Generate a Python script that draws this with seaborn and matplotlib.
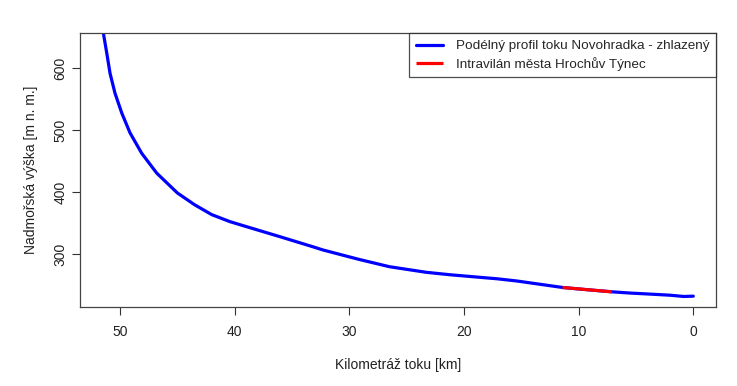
import matplotlib
matplotlib.use("Agg")
import matplotlib.pyplot as plt
import seaborn as sns
import pandas as pd

# Data
km = [51.5, 51.16, 50.87, 50.44, 49.85, 49.13, 48.11, 46.8, 45.0, 43.5, 42.0,
      40.4, 38.95, 36.05, 33.15, 32.3, 29.2, 26.5, 23.3, 21.2, 17.1, 15.4,
      11.4, 9.3, 7.1, 5.5, 3.75, 2.0, 0.84, 0.0]
elev = [662, 625, 592, 560, 528, 496, 463, 431, 399, 380, 364,
        352.6, 344.5, 328.4, 312, 307, 292, 280, 271, 267, 260.5, 257,
        246.5, 243, 239.5, 237.5, 235.8, 234, 232, 232.5]
red_km = [11.4, 9.3, 7.1]
red_elev = [246.5, 243, 239.5]

x_ticks = [50, 40, 30, 20, 10, 0]
y_ticks = [300, 400, 500, 600]
label_profile = "Podélný profil toku Novohradka - zhlazený"
label_town = "Intravilán města Hrochův Týnec"
x_label = "Kilometráž toku [km]"
y_label = "Nadmořská výška [m n. m.]"

sns.set_style("white")
plt.rcParams['font.family'] = ['Liberation Sans', 'DejaVu Sans']

W, H = 737, 386
fig = plt.figure(figsize=(W / 100, H / 100), dpi=100)
left, right, top, bottom = 80, 716, 33.3, 306.7
ax = fig.add_axes([left / W, 1 - bottom / H, (right - left) / W, (bottom - top) / H])

df = pd.DataFrame({"km": km, "elev": elev})
dr = pd.DataFrame({"km": red_km, "elev": red_elev})
sns.lineplot(data=df, x="km", y="elev", sort=False, color="#0000ff", lw=2.3,
             ax=ax, label=label_profile, solid_capstyle="round",
             solid_joinstyle="round")
sns.lineplot(data=dr, x="km", y="elev", sort=False, color="#ff0000", lw=2.3,
             ax=ax, label=label_town, solid_capstyle="butt")

ax.set_xlim(53.49, -1.98)
ax.set_ylim(215.5, 656.5)
ax.set_xticks(x_ticks)
ax.set_yticks(y_ticks)
ax.tick_params(axis="both", which="both", direction="out", length=5.5, width=0.8,
               color="#333333", labelsize=10, labelcolor="#222222",
               bottom=True, left=True)
ax.tick_params(axis="x", pad=8)
ax.tick_params(axis="y", pad=3.5)
for t in ax.get_yticklabels():
    t.set_rotation(90)
    t.set_va("center")
for s in ax.spines.values():
    s.set_visible(True)
    s.set_color("#444444")
    s.set_linewidth(0.9)

ax.set_xlabel(x_label, fontsize=10, color="#222222", labelpad=13)
ax.set_ylabel(y_label, fontsize=10, color="#222222", labelpad=11)

leg = ax.legend(loc="upper right", fontsize=9.7, frameon=True, fancybox=False,
                edgecolor="#222222", borderaxespad=0, handlelength=2.0,
                handletextpad=0.95, labelspacing=0.32, borderpad=0.5)
leg.get_frame().set_linewidth(0.9)

fig.savefig("out.png", dpi=100)
